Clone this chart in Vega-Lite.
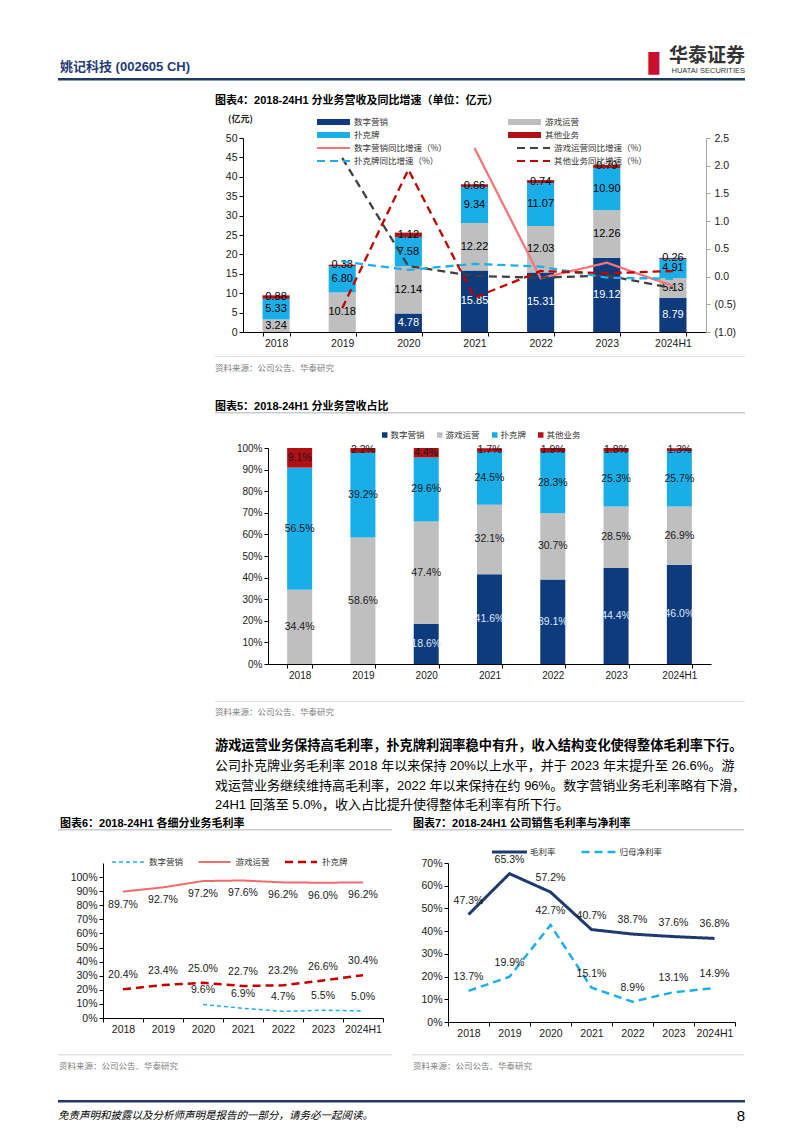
{
 "$schema": "https://vega.github.io/schema/vega-lite/v6.json",
 "background": "white",
 "padding": {"left": 58, "top": 47, "right": 0, "bottom": 0},
 "spacing": 0,
 "resolve": {"scale": {"color": "independent", "fill": "independent", "stroke": "independent", "strokeDash": "independent", "strokeWidth": "independent"}, "legend": {"color": "independent", "fill": "independent", "stroke": "independent", "strokeDash": "independent", "strokeWidth": "independent"}},
 "config": {
  "font": "Liberation Sans, Noto Sans CJK SC",
  "view": {"stroke": null},
  "concat": {"spacing": 0},
  "axis": {"grid": false, "labelFont": "Liberation Sans", "labelColor": "#1a1a1a", "domainColor": "#000000", "tickColor": "#000000", "labelFontSize": 10.5, "tickSize": 4, "labelPadding": 2, "titleFont": "Noto Sans CJK SC", "labelOverlap": false},
  "legend": {"labelFont": "Noto Sans CJK SC", "labelColor": "#333333", "labelFontSize": 8.5},
  "title": {"font": "Liberation Sans, Noto Sans CJK SC", "color": "#000000", "anchor": "start", "frame": "group"},
  "text": {"font": "Liberation Sans"}
 },
 "datasets": {
  "rev": [
   {"year": "2018", "s": "游戏运营", "k": 2, "v": 3.24},
   {"year": "2018", "s": "扑克牌", "k": 3, "v": 5.33},
   {"year": "2018", "s": "其他业务", "k": 4, "v": 0.88},
   {"year": "2019", "s": "游戏运营", "k": 2, "v": 10.18},
   {"year": "2019", "s": "扑克牌", "k": 3, "v": 6.80},
   {"year": "2019", "s": "其他业务", "k": 4, "v": 0.38},
   {"year": "2020", "s": "数字营销", "k": 1, "v": 4.78},
   {"year": "2020", "s": "游戏运营", "k": 2, "v": 12.14},
   {"year": "2020", "s": "扑克牌", "k": 3, "v": 7.58},
   {"year": "2020", "s": "其他业务", "k": 4, "v": 1.12},
   {"year": "2021", "s": "数字营销", "k": 1, "v": 15.85},
   {"year": "2021", "s": "游戏运营", "k": 2, "v": 12.22},
   {"year": "2021", "s": "扑克牌", "k": 3, "v": 9.34},
   {"year": "2021", "s": "其他业务", "k": 4, "v": 0.66},
   {"year": "2022", "s": "数字营销", "k": 1, "v": 15.31},
   {"year": "2022", "s": "游戏运营", "k": 2, "v": 12.03},
   {"year": "2022", "s": "扑克牌", "k": 3, "v": 11.07},
   {"year": "2022", "s": "其他业务", "k": 4, "v": 0.74},
   {"year": "2023", "s": "数字营销", "k": 1, "v": 19.12},
   {"year": "2023", "s": "游戏运营", "k": 2, "v": 12.26},
   {"year": "2023", "s": "扑克牌", "k": 3, "v": 10.90},
   {"year": "2023", "s": "其他业务", "k": 4, "v": 0.79},
   {"year": "2024H1", "s": "数字营销", "k": 1, "v": 8.79},
   {"year": "2024H1", "s": "游戏运营", "k": 2, "v": 5.13},
   {"year": "2024H1", "s": "扑克牌", "k": 3, "v": 4.91},
   {"year": "2024H1", "s": "其他业务", "k": 4, "v": 0.26}
  ],
  "growth": [
   {"year": "2021", "s": "数字营销同比增速（%）", "g": 2.32},
   {"year": "2022", "s": "数字营销同比增速（%）", "g": -0.03},
   {"year": "2023", "s": "数字营销同比增速（%）", "g": 0.25},
   {"year": "2024H1", "s": "数字营销同比增速（%）", "g": -0.17},
   {"year": "2019", "s": "游戏运营同比增速（%）", "g": 2.14},
   {"year": "2020", "s": "游戏运营同比增速（%）", "g": 0.19},
   {"year": "2021", "s": "游戏运营同比增速（%）", "g": 0.01},
   {"year": "2022", "s": "游戏运营同比增速（%）", "g": -0.02},
   {"year": "2023", "s": "游戏运营同比增速（%）", "g": 0.02},
   {"year": "2024H1", "s": "游戏运营同比增速（%）", "g": -0.21},
   {"year": "2019", "s": "扑克牌同比增速（%）", "g": 0.27},
   {"year": "2020", "s": "扑克牌同比增速（%）", "g": 0.12},
   {"year": "2021", "s": "扑克牌同比增速（%）", "g": 0.23},
   {"year": "2022", "s": "扑克牌同比增速（%）", "g": 0.18},
   {"year": "2023", "s": "扑克牌同比增速（%）", "g": -0.02},
   {"year": "2024H1", "s": "扑克牌同比增速（%）", "g": -0.04},
   {"year": "2019", "s": "其他业务同比增速（%）", "g": -0.57},
   {"year": "2020", "s": "其他业务同比增速（%）", "g": 1.93},
   {"year": "2021", "s": "其他业务同比增速（%）", "g": -0.38},
   {"year": "2022", "s": "其他业务同比增速（%）", "g": 0.10},
   {"year": "2023", "s": "其他业务同比增速（%）", "g": 0.06},
   {"year": "2024H1", "s": "其他业务同比增速（%）", "g": 0.10}
  ],
  "share": [
   {"year": "2018", "s": "游戏运营", "k": 2, "v": 0.344},
   {"year": "2018", "s": "扑克牌", "k": 3, "v": 0.565},
   {"year": "2018", "s": "其他业务", "k": 4, "v": 0.091},
   {"year": "2019", "s": "游戏运营", "k": 2, "v": 0.586},
   {"year": "2019", "s": "扑克牌", "k": 3, "v": 0.392},
   {"year": "2019", "s": "其他业务", "k": 4, "v": 0.022},
   {"year": "2020", "s": "数字营销", "k": 1, "v": 0.186},
   {"year": "2020", "s": "游戏运营", "k": 2, "v": 0.474},
   {"year": "2020", "s": "扑克牌", "k": 3, "v": 0.296},
   {"year": "2020", "s": "其他业务", "k": 4, "v": 0.044},
   {"year": "2021", "s": "数字营销", "k": 1, "v": 0.416},
   {"year": "2021", "s": "游戏运营", "k": 2, "v": 0.321},
   {"year": "2021", "s": "扑克牌", "k": 3, "v": 0.245},
   {"year": "2021", "s": "其他业务", "k": 4, "v": 0.017},
   {"year": "2022", "s": "数字营销", "k": 1, "v": 0.391},
   {"year": "2022", "s": "游戏运营", "k": 2, "v": 0.307},
   {"year": "2022", "s": "扑克牌", "k": 3, "v": 0.283},
   {"year": "2022", "s": "其他业务", "k": 4, "v": 0.019},
   {"year": "2023", "s": "数字营销", "k": 1, "v": 0.444},
   {"year": "2023", "s": "游戏运营", "k": 2, "v": 0.285},
   {"year": "2023", "s": "扑克牌", "k": 3, "v": 0.253},
   {"year": "2023", "s": "其他业务", "k": 4, "v": 0.018},
   {"year": "2024H1", "s": "数字营销", "k": 1, "v": 0.460},
   {"year": "2024H1", "s": "游戏运营", "k": 2, "v": 0.269},
   {"year": "2024H1", "s": "扑克牌", "k": 3, "v": 0.257},
   {"year": "2024H1", "s": "其他业务", "k": 4, "v": 0.013}
  ],
  "gm": [
   {"year": "2020", "s": "数字营销", "v": 0.096},
   {"year": "2021", "s": "数字营销", "v": 0.069},
   {"year": "2022", "s": "数字营销", "v": 0.047},
   {"year": "2023", "s": "数字营销", "v": 0.055},
   {"year": "2024H1", "s": "数字营销", "v": 0.050},
   {"year": "2018", "s": "游戏运营", "v": 0.897},
   {"year": "2019", "s": "游戏运营", "v": 0.927},
   {"year": "2020", "s": "游戏运营", "v": 0.972},
   {"year": "2021", "s": "游戏运营", "v": 0.976},
   {"year": "2022", "s": "游戏运营", "v": 0.962},
   {"year": "2023", "s": "游戏运营", "v": 0.960},
   {"year": "2024H1", "s": "游戏运营", "v": 0.962},
   {"year": "2018", "s": "扑克牌", "v": 0.204},
   {"year": "2019", "s": "扑克牌", "v": 0.234},
   {"year": "2020", "s": "扑克牌", "v": 0.250},
   {"year": "2021", "s": "扑克牌", "v": 0.227},
   {"year": "2022", "s": "扑克牌", "v": 0.232},
   {"year": "2023", "s": "扑克牌", "v": 0.266},
   {"year": "2024H1", "s": "扑克牌", "v": 0.304}
  ],
  "margin": [
   {"year": "2018", "s": "毛利率", "v": 0.473},
   {"year": "2019", "s": "毛利率", "v": 0.653},
   {"year": "2020", "s": "毛利率", "v": 0.572},
   {"year": "2021", "s": "毛利率", "v": 0.407},
   {"year": "2022", "s": "毛利率", "v": 0.387},
   {"year": "2023", "s": "毛利率", "v": 0.376},
   {"year": "2024H1", "s": "毛利率", "v": 0.368},
   {"year": "2018", "s": "归母净利率", "v": 0.137},
   {"year": "2019", "s": "归母净利率", "v": 0.199},
   {"year": "2020", "s": "归母净利率", "v": 0.427},
   {"year": "2021", "s": "归母净利率", "v": 0.151},
   {"year": "2022", "s": "归母净利率", "v": 0.089},
   {"year": "2023", "s": "归母净利率", "v": 0.131},
   {"year": "2024H1", "s": "归母净利率", "v": 0.149}
  ]
 },
 "vconcat": [
  {"hconcat": [
    {"width": 560, "height": 2.5, "data": {"values": []}, "mark": "point", "view": {"fill": "#1f3864", "stroke": null},
     "title": {"text": "姚记科技 (002605 CH)", "fontSize": 13, "fontWeight": "bold", "color": "#1f3c78", "offset": 4.5, "dx": 2}},
    {"width": 42, "height": 2.5, "data": {"values": []}, "mark": "point", "view": {"fill": "#1f3864", "stroke": null},
     "title": {"text": "▮", "anchor": "end", "font": "DejaVu Sans", "fontSize": 30, "fontWeight": "normal", "color": "#c8102e", "offset": 1, "dx": 2}},
    {"width": 85, "height": 2.5, "data": {"values": []}, "mark": "point", "view": {"fill": "#1f3864", "stroke": null},
     "title": {"text": "华泰证券", "subtitle": "HUATAI SECURITIES", "anchor": "end", "fontSize": 19, "fontWeight": "bold", "color": "#333333", "subtitleFont": "Liberation Sans", "subtitleFontSize": 7.5, "subtitleColor": "#333333", "subtitlePadding": 1, "offset": 3.25}}
   ], "bounds": "flush", "spacing": 0},
  {"width": 10, "height": 14, "data": {"values": []}, "mark": "point"},
  {"hconcat": [
    {"width": 157, "height": 1, "data": {"values": []}, "mark": "point"},
    {"width": 530, "height": 1, "data": {"values": []}, "mark": "point",
     "title": {"text": "图表4：2018-24H1 分业务营收及同比增速（单位：亿元）", "fontSize": 11, "fontWeight": "bold", "offset": 2}}
   ], "bounds": "flush", "spacing": 0},
  {"width": 10, "height": 5, "data": {"values": []}, "mark": "point"},
  {"hconcat": [
    {"width": 185, "height": 1, "data": {"values": []}, "mark": "point"},
    {"width": 463, "height": 194,
     "layer": [
      {"data": {"name": "rev"},
       "mark": {"type": "bar"},
       "encoding": {
        "x": {"field": "year", "type": "nominal", "sort": ["2018", "2019", "2020", "2021", "2022", "2023", "2024H1"], "scale": {"domain": ["2018", "2019", "2020", "2021", "2022", "2023", "2024H1"], "paddingInner": 0.59, "paddingOuter": 0.295}, "axis": {"title": null, "labelAngle": 0, "tickBand": "extent"}},
        "y": {"field": "v", "type": "quantitative", "stack": "zero", "scale": {"domain": [0, 50]}, "axis": {"values": [0, 5, 10, 15, 20, 25, 30, 35, 40, 45, 50], "title": "(亿元)", "titleAngle": 0, "titleX": -3, "titleY": -20, "titleAlign": "center", "titleBaseline": "middle", "titleFontSize": 9, "titleFontWeight": "bold", "titleColor": "#222222"}},
        "fill": {"field": "s", "type": "nominal",
         "scale": {"domain": ["数字营销", "游戏运营", "扑克牌", "其他业务"], "range": ["#0d3b7d", "#bfbfbf", "#19aee8", "#b00f14"]},
         "legend": {"title": null, "orient": "none", "legendX": 74, "legendY": -22.5, "direction": "horizontal", "columns": 2, "columnPadding": 119, "rowPadding": 0, "symbolType": "M-1,-0.18H1V0.18H-1Z", "symbolSize": 1089, "symbolStrokeWidth": 0, "clipHeight": 13, "labelOffset": 4, "labelLimit": 200}},
        "order": {"field": "k", "type": "quantitative"}
       }},
      {"data": {"name": "rev"},
       "transform": [
        {"stack": "v", "groupby": ["year"], "sort": [{"field": "k", "order": "ascending"}], "as": ["v0", "v1"]},
        {"fold": ["v0", "v1"], "as": ["edge", "pos"]}
       ],
       "mark": {"type": "text", "fontSize": 11, "baseline": "middle"},
       "encoding": {
        "x": {"field": "year", "type": "nominal", "sort": ["2018", "2019", "2020", "2021", "2022", "2023", "2024H1"]},
        "y": {"aggregate": "mean", "field": "pos", "type": "quantitative", "stack": null, "scale": {"domain": [0, 50]}, "axis": null},
        "detail": {"field": "s", "type": "nominal"},
        "text": {"field": "v", "type": "quantitative", "format": ".2f"},
        "color": {"condition": {"test": "datum.s === '数字营销'", "value": "#ffffff"}, "value": "#000000"}
       }},
      {"data": {"name": "growth"},
       "mark": {"type": "line", "strokeWidth": 2.3},
       "encoding": {
        "x": {"field": "year", "type": "nominal", "sort": ["2018", "2019", "2020", "2021", "2022", "2023", "2024H1"]},
        "y": {"field": "g", "type": "quantitative", "scale": {"domain": [-1, 2.5]}, "axis": {"orient": "right", "title": null, "values": [-1, -0.5, 0, 0.5, 1, 1.5, 2, 2.5], "labelExpr": "datum.value < 0 ? '(' + format(-datum.value, '.1f') + ')' : format(datum.value, '.1f')", "domainColor": "#a6a6a6", "tickColor": "#a6a6a6", "labelPadding": 4}},
        "stroke": {"field": "s", "type": "nominal",
         "scale": {"domain": ["数字营销同比增速（%）", "游戏运营同比增速（%）", "扑克牌同比增速（%）", "其他业务同比增速（%）"], "range": ["#f2767a", "#404040", "#1faee6", "#c00000"]},
         "legend": {"title": null, "orient": "none", "legendX": 73, "legendY": 3.5, "direction": "horizontal", "columns": 2, "columnPadding": 69, "rowPadding": 0, "symbolType": "stroke", "symbolSize": 1089, "symbolStrokeWidth": 2, "clipHeight": 13, "labelOffset": 3, "labelLimit": 200,
          "encode": {"symbols": {"update": {
           "strokeDash": {"signal": "datum.value === '数字营销同比增速（%）' ? [1,0] : [9,5]"},
           "strokeWidth": {"value": 2},
           "opacity": {"value": 1}
          }}}}},
        "strokeDash": {"field": "s", "type": "nominal", "scale": {"domain": ["数字营销同比增速（%）", "游戏运营同比增速（%）", "扑克牌同比增速（%）", "其他业务同比增速（%）"], "range": [[1, 0], [8, 5], [8, 5], [8, 5]]}, "legend": null}
       }}
     ],
     "resolve": {"scale": {"y": "independent"}}}
   ], "bounds": "flush", "spacing": 0,
   "resolve": {"scale": {"color": "independent", "fill": "independent", "stroke": "independent", "strokeDash": "independent"}, "legend": {"color": "independent", "fill": "independent", "stroke": "independent", "strokeDash": "independent"}}},
  {"width": 10, "height": 6.5, "data": {"values": []}, "mark": "point"},
  {"hconcat": [
    {"width": 157, "height": 1, "data": {"values": []}, "mark": "point"},
    {"width": 530, "height": 1, "data": {"values": []}, "mark": "point", "view": {"fill": "#dde1e6", "stroke": null},
     "title": {"text": "资料来源：公司公告、华泰研究", "orient": "bottom", "font": "Noto Sans CJK SC", "fontSize": 8.5, "fontWeight": "normal", "color": "#808080", "offset": 6.75}}
   ], "bounds": "flush", "spacing": 0},
  {"width": 10, "height": 26.25, "data": {"values": []}, "mark": "point"},
  {"hconcat": [
    {"width": 157, "height": 1, "data": {"values": []}, "mark": "point"},
    {"width": 530, "height": 1.5, "data": {"values": []}, "mark": "point", "view": {"fill": "#c8ccd2", "stroke": null},
     "title": {"text": "图表5：2018-24H1 分业务营收占比", "fontSize": 11, "fontWeight": "bold", "offset": 0.5}}
   ], "bounds": "flush", "spacing": 0},
  {"width": 10, "height": 16, "data": {"values": []}, "mark": "point"},
  {"hconcat": [
    {"width": 210, "height": 1, "data": {"values": []}, "mark": "point"},
    {"width": 443, "height": 216,
     "data": {"name": "share"},
     "layer": [
      {"mark": {"type": "bar"},
       "encoding": {
        "x": {"field": "year", "type": "nominal", "sort": ["2018", "2019", "2020", "2021", "2022", "2023", "2024H1"], "scale": {"paddingInner": 0.605, "paddingOuter": 0.3025}, "axis": {"title": null, "labelAngle": 0, "tickBand": "extent", "labelFontSize": 10}},
        "y": {"field": "v", "type": "quantitative", "stack": "zero", "scale": {"domain": [0, 1]}, "axis": {"title": null, "format": ".0%", "values": [0, 0.1, 0.2, 0.3, 0.4, 0.5, 0.6, 0.7, 0.8, 0.9, 1], "labelFontSize": 10}},
        "color": {"field": "s", "type": "nominal", "scale": {"domain": ["数字营销", "游戏运营", "扑克牌", "其他业务"], "range": ["#0d3b7d", "#bfbfbf", "#19aee8", "#b00f14"]},
         "legend": {"title": null, "orient": "none", "legendX": 112.5, "legendY": -17.5, "direction": "horizontal", "columns": 4, "symbolType": "square", "symbolSize": 30, "symbolStrokeWidth": 0, "clipHeight": 9, "columnPadding": 10, "labelOffset": 1.5}},
        "order": {"field": "k", "type": "quantitative"}
       }},
      {"transform": [
        {"stack": "v", "groupby": ["year"], "sort": [{"field": "k", "order": "ascending"}], "as": ["v0", "v1"]},
        {"fold": ["v0", "v1"], "as": ["edge", "pos"]}
       ],
       "mark": {"type": "text", "fontSize": 10.5, "baseline": "middle"},
       "encoding": {
        "x": {"field": "year", "type": "nominal", "sort": ["2018", "2019", "2020", "2021", "2022", "2023", "2024H1"]},
        "y": {"aggregate": "mean", "field": "pos", "type": "quantitative", "stack": null, "scale": {"domain": [0, 1]}, "axis": null},
        "detail": {"field": "s", "type": "nominal"},
        "text": {"field": "v", "type": "quantitative", "format": ".1%"},
        "color": {"condition": {"test": "datum.s === '数字营销'", "value": "#dfe9f6"}, "value": "#1a1a1a"}
       }}
     ],
     "resolve": {"scale": {"y": "independent"}}}
   ], "bounds": "flush", "spacing": 0,
   "resolve": {"scale": {"color": "independent"}, "legend": {"color": "independent"}}},
  {"width": 10, "height": 21, "data": {"values": []}, "mark": "point"},
  {"hconcat": [
    {"width": 157, "height": 1, "data": {"values": []}, "mark": "point"},
    {"width": 530, "height": 1, "data": {"values": []}, "mark": "point", "view": {"fill": "#dde1e6", "stroke": null},
     "title": {"text": "资料来源：公司公告、华泰研究", "orient": "bottom", "font": "Noto Sans CJK SC", "fontSize": 8.5, "fontWeight": "normal", "color": "#808080", "offset": 5.75}}
   ], "bounds": "flush", "spacing": 0},
  {"width": 10, "height": 22, "data": {"values": []}, "mark": "point"},
  {"hconcat": [
    {"width": 157, "height": 1, "data": {"values": []}, "mark": "point"},
    {"width": 530, "height": 1, "data": {"values": []}, "mark": "point",
     "title": {"text": "游戏运营业务保持高毛利率，扑克牌利润率稳中有升，收入结构变化使得整体毛利率下行。",
      "subtitle": ["公司扑克牌业务毛利率 2018 年以来保持 20%以上水平，并于 2023 年末提升至 26.6%。游", "戏运营业务继续维持高毛利率，2022 年以来保持在约 96%。数字营销业务毛利率略有下滑，", "24H1 回落至 5.0%，收入占比提升使得整体毛利率有所下行。"],
      "fontSize": 13.2, "fontWeight": "bold", "subtitleFont": "Liberation Sans, Noto Sans CJK SC", "subtitleFontSize": 13, "subtitleColor": "#000000", "subtitleLineHeight": 19.4, "subtitlePadding": 6.7, "offset": 1}}
   ], "bounds": "flush", "spacing": 0},
  {"width": 10, "height": 3, "data": {"values": []}, "mark": "point"},
  {"hconcat": [
    {"width": 334, "height": 1.5, "data": {"values": []}, "mark": "point", "view": {"fill": "#c8ccd2", "stroke": null},
     "title": {"text": "图表6：2018-24H1 各细分业务毛利率", "fontSize": 11, "fontWeight": "bold", "offset": 0, "dx": 2}},
    {"width": 20, "height": 1, "data": {"values": []}, "mark": "point"},
    {"width": 332, "height": 1.5, "data": {"values": []}, "mark": "point", "view": {"fill": "#c8ccd2", "stroke": null},
     "title": {"text": "图表7：2018-24H1 公司销售毛利率与净利率", "fontSize": 11, "fontWeight": "bold", "offset": 0, "dx": 1}}
   ], "bounds": "flush", "spacing": 0},
  {"width": 10, "height": 14, "data": {"values": []}, "mark": "point"},
  {"hconcat": [
    {"width": 45, "height": 1, "data": {"values": []}, "mark": "point"},
    {"width": 280, "height": 155,
     "data": {"name": "gm"},
     "layer": [
      {"mark": {"type": "line"},
       "encoding": {
        "x": {"field": "year", "type": "nominal", "sort": ["2018", "2019", "2020", "2021", "2022", "2023", "2024H1"], "scale": {"domain": ["2018", "2019", "2020", "2021", "2022", "2023", "2024H1"], "padding": 0}, "axis": {"title": null, "labelAngle": 0, "tickBand": "extent"}},
        "y": {"field": "v", "type": "quantitative", "scale": {"domain": [0, 1.084]}, "axis": {"title": null, "format": ".0%", "values": [0, 0.1, 0.2, 0.3, 0.4, 0.5, 0.6, 0.7, 0.8, 0.9, 1]}},
        "color": {"field": "s", "type": "nominal", "scale": {"domain": ["数字营销", "游戏运营", "扑克牌"], "range": ["#1faee6", "#f26b6b", "#c00000"]},
         "legend": {"title": null, "orient": "none", "legendX": 7.5, "legendY": -7.5, "direction": "horizontal", "columns": 3, "symbolType": "stroke", "symbolSize": 1024, "symbolStrokeWidth": 3, "clipHeight": 13, "labelOffset": 3.5, "columnPadding": 13.5,
          "encode": {"symbols": {"update": {
           "stroke": {"signal": "['#1faee6','#f26b6b','#c00000'][indexof(['数字营销','游戏运营','扑克牌'], datum.value)]"},
           "strokeWidth": {"signal": "[1.5,2.5,3][indexof(['数字营销','游戏运营','扑克牌'], datum.value)]"},
           "strokeDash": {"signal": "[[4,3],[1,0],[8,5]][indexof(['数字营销','游戏运营','扑克牌'], datum.value)]"},
           "fill": {"value": "transparent"},
           "opacity": {"value": 1}
          }}}}},
        "strokeDash": {"field": "s", "type": "nominal", "scale": {"domain": ["数字营销", "游戏运营", "扑克牌"], "range": [[4, 3], [1, 0], [8, 5]]}, "legend": null},
        "strokeWidth": {"field": "s", "type": "nominal", "scale": {"domain": ["数字营销", "游戏运营", "扑克牌"], "range": [1.5, 2.5, 3]}, "legend": null}
       }},
      {"transform": [{"filter": "datum.s === '游戏运营'"}],
       "mark": {"type": "text", "dy": 13, "fontSize": 10.5, "color": "#1a1a1a"},
       "encoding": {
        "x": {"field": "year", "type": "nominal", "sort": ["2018", "2019", "2020", "2021", "2022", "2023", "2024H1"], "axis": {"title": null, "labelAngle": 0, "tickBand": "extent"}},
        "y": {"field": "v", "type": "quantitative", "axis": {"title": null, "format": ".0%", "values": [0, 0.1, 0.2, 0.3, 0.4, 0.5, 0.6, 0.7, 0.8, 0.9, 1]}},
        "text": {"field": "v", "type": "quantitative", "format": ".1%"}
       }},
      {"transform": [{"filter": "datum.s !== '游戏运营'"}],
       "mark": {"type": "text", "dy": -14, "fontSize": 10.5, "color": "#1a1a1a"},
       "encoding": {
        "x": {"field": "year", "type": "nominal", "sort": ["2018", "2019", "2020", "2021", "2022", "2023", "2024H1"], "axis": {"title": null, "labelAngle": 0, "tickBand": "extent"}},
        "y": {"field": "v", "type": "quantitative", "axis": {"title": null, "format": ".0%", "values": [0, 0.1, 0.2, 0.3, 0.4, 0.5, 0.6, 0.7, 0.8, 0.9, 1]}},
        "text": {"field": "v", "type": "quantitative", "format": ".1%"}
       }}
     ]},
    {"width": 65, "height": 1, "data": {"values": []}, "mark": "point"},
    {"width": 287, "height": 159,
     "data": {"name": "margin"},
     "layer": [
      {"mark": {"type": "line"},
       "encoding": {
        "x": {"field": "year", "type": "nominal", "sort": ["2018", "2019", "2020", "2021", "2022", "2023", "2024H1"], "scale": {"padding": 0}, "axis": {"title": null, "labelAngle": 0, "tickBand": "extent"}},
        "y": {"field": "v", "type": "quantitative", "scale": {"domain": [0, 0.7]}, "axis": {"title": null, "format": ".0%", "values": [0, 0.1, 0.2, 0.3, 0.4, 0.5, 0.6, 0.7]}},
        "color": {"field": "s", "type": "nominal", "scale": {"domain": ["毛利率", "归母净利率"], "range": ["#1f3a70", "#1faee6"]},
         "legend": {"title": null, "orient": "none", "legendX": 42.5, "legendY": -17.5, "direction": "horizontal", "columns": 2, "symbolType": "stroke", "symbolSize": 1225, "symbolStrokeWidth": 3, "clipHeight": 13, "labelOffset": 1.5, "columnPadding": 23.5,
          "encode": {"symbols": {"update": {
           "stroke": {"signal": "['#1f3a70','#1faee6'][indexof(['毛利率','归母净利率'], datum.value)]"},
           "strokeWidth": {"signal": "[3,2.5][indexof(['毛利率','归母净利率'], datum.value)]"},
           "strokeDash": {"signal": "[[1,0],[8,5]][indexof(['毛利率','归母净利率'], datum.value)]"},
           "fill": {"value": "transparent"},
           "opacity": {"value": 1}
          }}}}},
        "strokeDash": {"field": "s", "type": "nominal", "scale": {"domain": ["毛利率", "归母净利率"], "range": [[1, 0], [8, 5]]}, "legend": null},
        "strokeWidth": {"field": "s", "type": "nominal", "scale": {"domain": ["毛利率", "归母净利率"], "range": [3, 2.5]}, "legend": null}
       }},
      {"mark": {"type": "text", "dy": -14, "fontSize": 10.5, "color": "#1a1a1a"},
       "encoding": {
        "x": {"field": "year", "type": "nominal", "sort": ["2018", "2019", "2020", "2021", "2022", "2023", "2024H1"], "axis": {"title": null, "labelAngle": 0, "tickBand": "extent"}},
        "y": {"field": "v", "type": "quantitative", "axis": {"title": null, "format": ".0%", "values": [0, 0.1, 0.2, 0.3, 0.4, 0.5, 0.6, 0.7]}},
        "text": {"field": "v", "type": "quantitative", "format": ".1%"}
       }}
     ]}
   ], "bounds": "flush", "spacing": 0,
   "resolve": {"scale": {"color": "independent", "strokeDash": "independent", "strokeWidth": "independent", "x": "independent", "y": "independent"}, "legend": {"color": "independent", "strokeDash": "independent", "strokeWidth": "independent"}}},
  {"width": 10, "height": 14.5, "data": {"values": []}, "mark": "point"},
  {"hconcat": [
    {"width": 334, "height": 1.5, "data": {"values": []}, "mark": "point", "view": {"fill": "#dde1e6", "stroke": null},
     "title": {"text": "资料来源：公司公告、华泰研究", "orient": "bottom", "font": "Noto Sans CJK SC", "fontSize": 8.5, "fontWeight": "normal", "color": "#808080", "offset": 6.25, "dx": 1}},
    {"width": 20, "height": 1, "data": {"values": []}, "mark": "point"},
    {"width": 332, "height": 1.5, "data": {"values": []}, "mark": "point", "view": {"fill": "#dde1e6", "stroke": null},
     "title": {"text": "资料来源：公司公告、华泰研究", "orient": "bottom", "font": "Noto Sans CJK SC", "fontSize": 8.5, "fontWeight": "normal", "color": "#808080", "offset": 6.25, "dx": 1}}
   ], "bounds": "flush", "spacing": 0},
  {"width": 10, "height": 28.75, "data": {"values": []}, "mark": "point"},
  {"hconcat": [
    {"width": 600, "height": 2.5, "data": {"values": []}, "mark": "point", "view": {"fill": "#1f3864", "stroke": null},
     "title": {"text": "免责声明和披露以及分析师声明是报告的一部分，请务必一起阅读。", "orient": "bottom", "font": "Noto Sans CJK SC", "fontSize": 10.5, "fontWeight": "normal", "fontStyle": "italic", "color": "#000000", "offset": 8.25}},
    {"width": 87, "height": 2.5, "data": {"values": []}, "mark": "point", "view": {"fill": "#1f3864", "stroke": null},
     "title": {"text": "8", "orient": "bottom", "anchor": "end", "font": "Liberation Sans", "fontSize": 15, "fontWeight": "normal", "color": "#000000", "offset": 6}}
   ], "bounds": "flush", "spacing": 0}
 ]
}
